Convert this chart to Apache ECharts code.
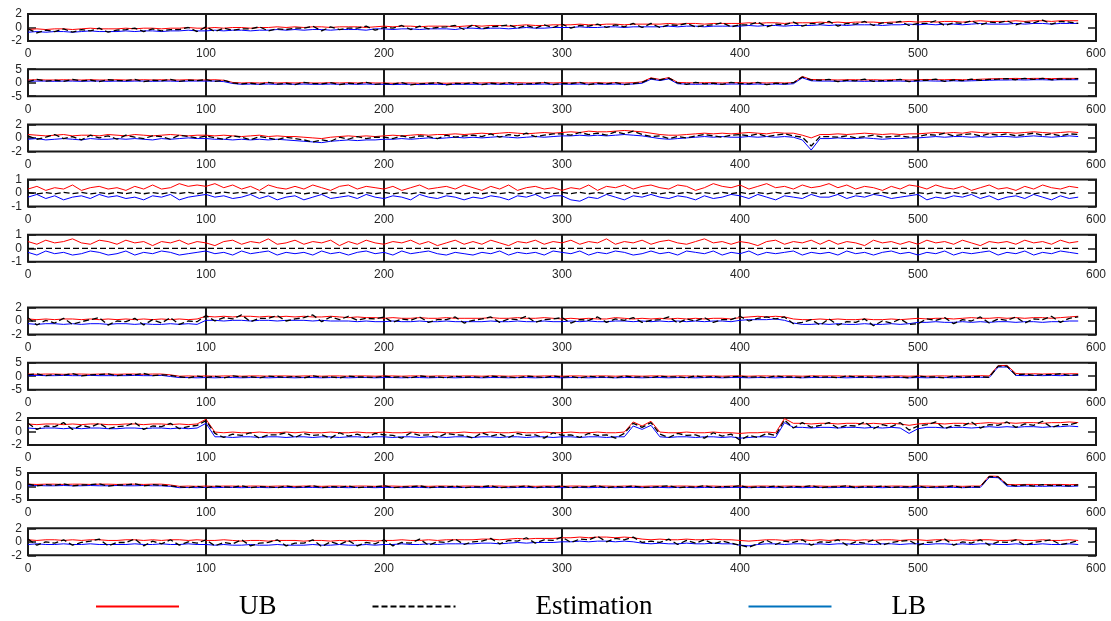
<!DOCTYPE html>
<html lang="en">
<head>
  <meta charset="utf-8">
  <title>UB / Estimation / LB</title>
  <script type="text/javascript" src="https://fastly.jsdelivr.net/npm/echarts@6/dist/echarts.min.js"></script>
  <style type="text/css">
    * { margin: 0; padding: 0; }
    html, body { background: #fff; }
    #main { width: 1111px; height: 621px; }
  </style>
</head>
<body>
  <div id="main"></div>
  <script type="text/javascript">
    // sample index step between stored points (x = 0, 5, 10 ... 590)
    const STEP = 5;
    // y limits of each panel (symmetric, ticks at -m, 0, m)
    const yLimits = [2, 5, 2, 1, 1, 2, 5, 2, 5, 2];

    // ---- panel 1
    const ub1 = [
      -0.3,-0.2,-0.3,-0.2,-0.2,-0.3,-0.2,-0.1,-0.2,-0.2,
      -0.2,-0.1,-0.2,-0.1,-0.1,-0.2,-0.1,-0.1,0.0,-0.1,
      -0.1,0.0,-0.1,0.0,0.0,-0.1,0.0,0.0,0.1,0.0,
      0.1,0.0,0.1,0.1,0.0,0.1,0.1,0.1,0.0,0.1,
      0.2,0.1,0.2,0.2,0.1,0.2,0.2,0.2,0.1,0.2,
      0.3,0.2,0.3,0.3,0.2,0.3,0.4,0.3,0.3,0.4,
      0.4,0.4,0.5,0.4,0.4,0.5,0.5,0.4,0.5,0.5,
      0.5,0.5,0.6,0.5,0.6,0.6,0.5,0.6,0.6,0.6,
      0.6,0.7,0.6,0.7,0.7,0.6,0.7,0.7,0.7,0.8,
      0.7,0.8,0.7,0.8,0.8,0.8,0.7,0.8,0.8,0.9,
      0.8,0.9,0.8,0.9,0.9,0.8,0.9,1.0,0.9,0.9,
      0.9,1.0,0.9,1.0,1.0,0.9,1.0,1.0,1.0
    ];
    const est1 = [
      -0.2,-0.8,-0.4,-0.6,-0.2,-0.7,-0.3,-0.5,-0.1,-0.7,
      -0.4,-0.3,-0.1,-0.6,-0.2,-0.5,-0.3,-0.3,0.0,-0.6,
      0.1,-0.6,-0.1,-0.4,-0.2,-0.2,0.1,-0.5,-0.2,-0.3,
      -0.1,-0.1,0.2,-0.5,0.1,-0.3,-0.1,-0.1,0.2,-0.4,
      0.0,-0.1,0.3,-0.3,0.2,-0.2,0.0,0.1,0.3,-0.3,
      0.4,-0.2,0.1,0.2,0.4,-0.1,0.3,-0.1,0.4,0.0,
      0.5,-0.1,0.3,0.2,0.5,0.0,0.4,0.1,0.6,0.0,
      0.6,0.0,0.4,0.3,0.6,0.1,0.3,0.4,0.7,0.1,
      0.4,0.4,0.8,0.1,0.5,0.4,0.8,0.2,0.6,0.5,
      0.9,0.2,0.6,0.5,0.9,0.3,0.7,0.6,0.9,0.3,
      0.6,0.6,1.0,0.3,0.7,0.6,1.0,0.4,0.8,0.7,
      1.0,0.4,0.8,0.7,1.1,0.5,0.9,0.8,0.6
    ];
    const lb1 = [
      -0.7,-0.6,-0.7,-0.6,-0.6,-0.7,-0.6,-0.5,-0.6,-0.6,
      -0.6,-0.5,-0.6,-0.5,-0.5,-0.6,-0.5,-0.5,-0.4,-0.5,
      -0.5,-0.4,-0.5,-0.4,-0.4,-0.5,-0.4,-0.4,-0.3,-0.4,
      -0.3,-0.4,-0.3,-0.3,-0.4,-0.3,-0.3,-0.3,-0.4,-0.2,
      -0.2,-0.3,-0.2,-0.2,-0.3,-0.2,-0.2,-0.2,-0.3,-0.1,
      -0.1,-0.2,-0.1,-0.1,-0.2,-0.1,0.0,-0.1,-0.1,0.0,
      0.0,0.0,0.1,0.0,0.0,0.1,0.1,0.0,0.1,0.1,
      0.1,0.1,0.2,0.1,0.2,0.2,0.1,0.2,0.2,0.2,
      0.2,0.3,0.2,0.3,0.3,0.2,0.3,0.3,0.3,0.4,
      0.3,0.4,0.3,0.4,0.4,0.4,0.3,0.4,0.4,0.5,
      0.4,0.5,0.4,0.5,0.5,0.4,0.5,0.6,0.5,0.5,
      0.5,0.6,0.5,0.6,0.6,0.5,0.6,0.6,0.6
    ];

    // ---- panel 2
    const ub2 = [
      1.0,1.1,1.0,1.0,1.1,1.0,1.0,1.1,1.0,1.0,
      1.1,1.0,1.0,1.1,1.0,1.1,1.0,1.0,1.1,1.0,
      1.0,1.1,0.9,0.1,-0.1,0.0,-0.1,0.0,-0.1,0.0,
      -0.1,0.0,-0.1,-0.1,0.0,-0.1,0.0,-0.1,0.0,-0.1,
      -0.1,-0.2,-0.1,-0.1,-0.2,-0.1,-0.1,-0.2,-0.1,-0.1,
      -0.1,-0.1,0.0,-0.1,-0.1,0.0,-0.1,-0.1,0.0,-0.1,
      0.0,-0.1,0.0,-0.1,0.0,-0.1,0.0,-0.1,0.0,0.3,
      1.8,1.2,1.9,0.1,0.0,-0.1,0.0,0.0,-0.1,0.0,
      0.0,-0.1,0.0,-0.1,0.0,-0.1,0.0,2.3,1.2,1.1,
      1.1,1.0,1.1,1.1,1.0,1.1,1.0,1.1,1.1,1.0,
      1.1,1.2,1.1,1.1,1.2,1.1,1.1,1.3,1.4,1.5,
      1.5,1.6,1.5,1.6,1.6,1.5,1.6,1.6,1.6
    ];
    const est2 = [
      0.4,1.2,0.6,0.9,0.5,1.2,0.7,1.0,0.4,1.1,
      0.8,0.8,1.2,0.4,0.9,0.7,1.2,0.5,0.9,0.8,
      1.1,0.5,0.9,-0.1,-0.4,-0.2,-0.6,0.1,-0.5,-0.2,
      -0.7,0.1,-0.3,-0.4,0.0,-0.7,-0.2,-0.4,0.1,-0.6,
      -0.3,-0.5,0.0,-0.8,-0.4,-0.3,0.0,-0.8,-0.3,-0.4,
      0.0,-0.7,-0.2,-0.5,0.0,-0.7,-0.4,-0.3,0.1,-0.7,
      -0.3,-0.3,0.1,-0.7,-0.2,-0.4,0.0,-0.7,-0.3,0.1,
      1.6,1.0,1.7,-0.1,-0.6,0.1,-0.4,-0.2,-0.6,0.1,
      -0.3,-0.4,0.1,-0.7,-0.2,-0.4,0.0,2.1,1.0,0.9,
      1.2,0.4,0.9,0.7,1.3,0.5,0.8,0.8,1.2,0.4,
      0.9,0.9,1.3,0.5,1.0,0.8,1.3,0.9,1.2,1.3,
      1.5,1.1,1.6,1.2,1.6,1.1,1.4,1.3,1.5
    ];
    const lb2 = [
      0.5,0.6,0.6,0.5,0.6,0.6,0.5,0.6,0.6,0.5,
      0.6,0.5,0.6,0.6,0.5,0.6,0.6,0.5,0.6,0.6,
      0.6,0.6,0.4,-0.3,-0.6,-0.5,-0.6,-0.5,-0.6,-0.5,
      -0.6,-0.5,-0.6,-0.6,-0.5,-0.6,-0.5,-0.6,-0.5,-0.6,
      -0.6,-0.7,-0.6,-0.6,-0.7,-0.6,-0.6,-0.7,-0.6,-0.6,
      -0.6,-0.6,-0.5,-0.6,-0.6,-0.5,-0.6,-0.6,-0.5,-0.6,
      -0.5,-0.6,-0.5,-0.6,-0.5,-0.6,-0.5,-0.6,-0.5,-0.2,
      1.3,0.8,1.4,-0.4,-0.5,-0.6,-0.5,-0.5,-0.6,-0.5,
      -0.5,-0.6,-0.5,-0.6,-0.5,-0.6,-0.4,1.8,0.7,0.6,
      0.6,0.5,0.6,0.6,0.5,0.6,0.5,0.6,0.6,0.5,
      0.6,0.7,0.6,0.6,0.7,0.6,0.7,0.8,0.9,1.0,
      1.0,1.1,1.0,1.1,1.1,1.0,1.1,1.1,1.1
    ];

    // ---- panel 3
    const ub3 = [
      0.5,0.4,0.3,0.4,0.5,0.3,0.4,0.4,0.3,0.5,
      0.4,0.3,0.5,0.4,0.3,0.4,0.5,0.4,0.3,0.4,
      0.4,0.3,0.4,0.3,0.2,0.3,0.4,0.2,0.3,0.2,
      0.2,0.1,0.0,-0.1,0.1,0.2,0.3,0.2,0.3,0.2,
      0.3,0.4,0.3,0.4,0.5,0.4,0.5,0.5,0.6,0.5,
      0.6,0.7,0.6,0.7,0.8,0.7,0.6,0.7,0.8,0.7,
      0.8,0.9,0.8,1.0,0.9,0.9,1.0,1.1,1.0,0.9,
      0.7,0.5,0.4,0.4,0.5,0.6,0.7,0.6,0.7,0.6,
      0.7,0.8,0.7,0.6,0.8,0.7,0.7,0.4,0.0,0.5,
      0.5,0.6,0.5,0.6,0.7,0.6,0.5,0.6,0.5,0.6,
      0.6,0.7,0.8,0.7,0.8,0.7,0.9,0.8,0.7,0.8,
      0.8,0.7,0.8,0.9,0.8,0.7,0.8,0.9,0.8
    ];
    const est3 = [
      0.3,-0.2,0.1,0.5,-0.1,0.2,-0.3,0.4,0.0,0.3,
      -0.2,0.4,0.1,-0.1,0.3,0.2,-0.2,0.4,0.2,0.0,
      0.3,0.0,-0.2,0.3,0.1,-0.3,0.2,0.0,-0.3,0.1,
      -0.1,-0.3,-0.6,-0.3,-0.5,0.1,-0.2,0.2,-0.1,0.1,
      0.1,-0.1,0.3,0.0,0.3,0.2,-0.1,0.4,0.1,0.3,
      0.4,0.2,0.6,0.1,0.5,0.3,0.7,0.2,0.4,0.6,
      0.6,0.4,0.8,0.5,0.7,0.4,0.9,0.6,1.0,0.5,
      0.2,0.3,-0.1,0.2,0.0,0.3,0.5,0.3,0.1,0.4,
      0.5,0.3,0.6,0.2,0.4,0.6,0.3,0.1,-1.2,0.2,
      0.2,0.1,0.3,0.0,0.2,0.4,0.1,0.2,0.3,0.1,
      0.2,0.5,0.4,0.7,0.3,0.5,0.6,0.3,0.6,0.4,
      0.6,0.3,0.5,0.7,0.4,0.6,0.3,0.6,0.5
    ];
    const lb3 = [
      -0.2,-0.1,-0.3,-0.2,-0.1,-0.2,-0.3,-0.1,-0.2,-0.2,
      -0.1,-0.2,-0.1,-0.2,-0.3,-0.1,-0.2,-0.1,0.0,-0.1,
      -0.1,-0.2,-0.2,-0.3,-0.2,-0.3,-0.2,-0.3,-0.2,-0.3,
      -0.4,-0.5,-0.6,-0.7,-0.5,-0.4,-0.3,-0.4,-0.3,-0.3,
      -0.2,-0.2,-0.1,-0.2,-0.1,0.0,-0.1,0.0,0.1,0.0,
      0.1,0.0,0.1,0.2,0.1,0.0,0.1,0.2,0.1,0.2,
      0.3,0.3,0.4,0.3,0.4,0.3,0.4,0.5,0.4,0.3,
      0.1,-0.1,-0.2,-0.1,0.0,0.1,0.2,0.1,0.2,0.1,
      0.1,0.2,0.1,0.2,0.1,0.2,0.1,-0.3,-1.8,-0.1,
      -0.1,0.0,-0.1,-0.1,0.0,-0.1,-0.2,-0.1,-0.1,0.0,
      0.0,0.1,0.2,0.1,0.2,0.2,0.1,0.2,0.1,0.2,
      0.2,0.1,0.2,0.3,0.2,0.1,0.2,0.3,0.2
    ];

    // ---- panel 4
    const ub4 = [
      0.3,0.5,0.2,0.4,0.3,0.6,0.2,0.4,0.5,0.3,
      0.4,0.2,0.5,0.3,0.6,0.3,0.4,0.7,0.5,0.6,
      0.5,0.7,0.4,0.6,0.3,0.5,0.2,0.6,0.4,0.3,
      0.5,0.3,0.6,0.4,0.2,0.5,0.6,0.3,0.5,0.4,
      0.3,0.5,0.2,0.4,0.6,0.3,0.4,0.5,0.3,0.6,
      0.4,0.2,0.5,0.3,0.6,0.2,0.4,0.5,0.3,0.4,
      0.2,0.4,0.3,0.6,0.2,0.5,0.4,0.6,0.3,0.5,
      0.6,0.4,0.3,0.6,0.5,0.2,0.4,0.7,0.5,0.4,
      0.6,0.3,0.5,0.7,0.4,0.5,0.3,0.6,0.4,0.5,
      0.7,0.4,0.6,0.3,0.5,0.4,0.2,0.5,0.3,0.6,
      0.5,0.3,0.6,0.4,0.3,0.5,0.2,0.4,0.6,0.3,
      0.4,0.2,0.5,0.3,0.6,0.4,0.3,0.5,0.4
    ];
    const est4 = [
      0.04,-0.06,0.03,-0.05,0.06,-0.04,0.05,-0.06,0.03,-0.05,
      0.05,-0.04,0.06,-0.05,0.04,-0.06,0.05,-0.03,0.06,-0.05,
      0.07,-0.03,0.08,-0.02,0.06,-0.04,0.07,-0.03,0.05,-0.04,
      0.05,-0.06,0.04,-0.05,0.06,-0.04,0.05,-0.06,0.04,-0.05,
      0.06,-0.05,0.04,-0.06,0.05,-0.04,0.06,-0.05,0.03,-0.06,
      0.04,-0.05,0.06,-0.04,0.05,-0.06,0.04,-0.05,0.06,-0.04,
      0.05,-0.04,0.06,-0.05,0.04,-0.06,0.05,-0.04,0.06,-0.05,
      0.04,-0.06,0.05,-0.04,0.06,-0.05,0.04,-0.06,0.05,-0.04,
      0.06,-0.05,0.04,-0.06,0.05,-0.04,0.06,-0.05,0.04,-0.06,
      0.05,-0.04,0.06,-0.05,0.04,-0.06,0.05,-0.04,0.06,-0.05,
      0.04,-0.06,0.05,-0.04,0.06,-0.05,0.04,-0.06,0.05,-0.04,
      0.06,-0.05,0.04,-0.06,0.05,-0.04,0.06,-0.05,0.04
    ];
    const lb4 = [
      -0.3,-0.1,-0.4,-0.2,-0.5,-0.3,-0.2,-0.4,-0.1,-0.3,
      -0.2,-0.4,-0.3,-0.5,-0.2,-0.3,-0.1,-0.5,-0.3,-0.2,
      -0.1,-0.3,-0.2,-0.4,-0.3,-0.1,-0.4,-0.2,-0.5,-0.3,
      -0.2,-0.5,-0.3,-0.1,-0.4,-0.3,-0.2,-0.4,-0.1,-0.3,
      -0.4,-0.2,-0.3,-0.5,-0.1,-0.3,-0.4,-0.2,-0.3,-0.5,
      -0.3,-0.4,-0.2,-0.3,-0.5,-0.2,-0.3,-0.1,-0.4,-0.2,
      -0.2,-0.5,-0.6,-0.3,-0.4,-0.1,-0.3,-0.5,-0.2,-0.3,
      -0.1,-0.3,-0.4,-0.2,-0.3,-0.5,-0.2,-0.4,-0.3,-0.1,
      -0.2,-0.4,-0.1,-0.3,-0.5,-0.2,-0.3,-0.4,-0.1,-0.3,
      -0.3,-0.1,-0.4,-0.2,-0.3,-0.1,-0.2,-0.4,-0.3,-0.2,
      -0.1,-0.5,-0.3,-0.4,-0.2,-0.3,-0.1,-0.4,-0.2,-0.5,
      -0.3,-0.2,-0.4,-0.1,-0.3,-0.5,-0.2,-0.4,-0.3
    ];

    // ---- panel 5
    const ub5 = [
      0.5,0.3,0.6,0.4,0.5,0.7,0.4,0.3,0.6,0.5,
      0.3,0.6,0.4,0.5,0.2,0.5,0.4,0.6,0.3,0.5,
      0.4,0.2,0.5,0.6,0.3,0.5,0.4,0.7,0.3,0.4,
      0.6,0.3,0.5,0.4,0.6,0.2,0.5,0.3,0.6,0.4,
      0.3,0.5,0.4,0.6,0.3,0.5,0.2,0.4,0.6,0.3,
      0.5,0.3,0.6,0.4,0.2,0.5,0.4,0.6,0.3,0.5,
      0.4,0.6,0.3,0.5,0.4,0.7,0.3,0.5,0.4,0.6,
      0.3,0.5,0.6,0.4,0.3,0.5,0.7,0.4,0.5,0.3,
      0.5,0.4,0.2,0.5,0.6,0.3,0.5,0.4,0.6,0.3,
      0.6,0.3,0.5,0.4,0.2,0.6,0.4,0.5,0.3,0.5,
      0.3,0.6,0.4,0.5,0.3,0.6,0.4,0.2,0.5,0.4,
      0.5,0.3,0.6,0.4,0.5,0.3,0.6,0.4,0.5
    ];
    const est5 = [
      0,0,0,0,0,0,0,0,0,0,
      0,0,0,0,0,0,0,0,0,0,
      0,0,0,0,0,0,0,0,0,0,
      0,0,0,0,0,0,0,0,0,0,
      0,0,0,0,0,0,0,0,0,0,
      0,0,0,0,0,0,0,0,0,0,
      0,0,0,0,0,0,0,0,0,0,
      0,0,0,0,0,0,0,0,0,0,
      0,0,0,0,0,0,0,0,0,0,
      0,0,0,0,0,0,0,0,0,0,
      0,0,0,0,0,0,0,0,0,0,
      0,0,0,0,0,0,0,0,0
    ];
    const lb5 = [
      -0.3,-0.5,-0.2,-0.4,-0.3,-0.5,-0.4,-0.2,-0.3,-0.5,
      -0.4,-0.2,-0.5,-0.3,-0.4,-0.2,-0.3,-0.5,-0.4,-0.3,
      -0.2,-0.4,-0.3,-0.5,-0.2,-0.4,-0.3,-0.2,-0.5,-0.3,
      -0.4,-0.3,-0.5,-0.2,-0.4,-0.3,-0.5,-0.3,-0.2,-0.4,
      -0.3,-0.5,-0.2,-0.4,-0.3,-0.2,-0.4,-0.5,-0.3,-0.4,
      -0.5,-0.3,-0.4,-0.2,-0.5,-0.3,-0.4,-0.3,-0.5,-0.2,
      -0.3,-0.4,-0.2,-0.5,-0.3,-0.4,-0.2,-0.3,-0.5,-0.4,
      -0.2,-0.4,-0.3,-0.5,-0.2,-0.3,-0.4,-0.2,-0.5,-0.3,
      -0.4,-0.2,-0.5,-0.3,-0.4,-0.3,-0.2,-0.5,-0.3,-0.4,
      -0.3,-0.5,-0.2,-0.4,-0.3,-0.5,-0.3,-0.2,-0.4,-0.3,
      -0.5,-0.3,-0.4,-0.2,-0.5,-0.3,-0.4,-0.3,-0.2,-0.5,
      -0.3,-0.4,-0.2,-0.5,-0.3,-0.4,-0.2,-0.3,-0.4
    ];

    // ---- panel 6
    const ub6 = [
      0.3,0.2,0.3,0.2,0.3,0.3,0.2,0.3,0.2,0.3,
      0.2,0.3,0.2,0.3,0.2,0.3,0.2,0.3,0.2,0.3,
      0.7,0.6,0.7,0.6,0.7,0.7,0.6,0.7,0.6,0.7,
      0.6,0.7,0.6,0.6,0.7,0.6,0.5,0.6,0.5,0.5,
      0.4,0.5,0.4,0.4,0.5,0.4,0.4,0.5,0.4,0.4,
      0.4,0.4,0.5,0.4,0.4,0.5,0.4,0.4,0.5,0.4,
      0.3,0.4,0.3,0.4,0.3,0.3,0.5,0.4,0.3,0.4,
      0.3,0.4,0.3,0.4,0.3,0.4,0.3,0.4,0.4,0.3,
      0.5,0.6,0.7,0.6,0.7,0.6,0.3,0.2,0.2,0.3,
      0.2,0.3,0.2,0.2,0.3,0.2,0.2,0.3,0.2,0.3,
      0.4,0.3,0.4,0.4,0.3,0.4,0.5,0.4,0.4,0.5,
      0.4,0.5,0.4,0.5,0.5,0.4,0.5,0.6,0.7
    ];
    const est6 = [
      0.5,-0.6,0.1,-0.3,0.4,-0.5,-0.1,0.2,0.5,-0.6,
      0.0,-0.1,0.4,-0.6,0.2,-0.3,0.5,-0.5,0.0,-0.1,
      0.8,0.0,0.5,0.3,0.9,-0.1,0.4,0.4,0.8,0.0,
      0.3,0.5,0.9,-0.1,0.6,0.2,0.7,0.1,0.4,0.3,
      0.6,-0.2,0.3,0.1,0.6,-0.2,0.2,0.2,0.6,-0.3,
      0.1,0.3,0.6,-0.2,0.3,0.2,0.7,-0.2,0.2,0.3,
      0.5,-0.3,0.2,0.1,0.6,-0.2,0.3,0.1,0.5,-0.2,
      0.1,0.2,0.6,-0.3,0.3,0.0,0.5,-0.2,0.2,0.2,
      0.7,0.0,0.4,0.6,0.3,0.6,-0.4,-0.2,0.2,-0.6,
      0.3,-0.6,-0.1,-0.2,0.3,-0.7,0.0,-0.3,0.3,-0.5,
      -0.4,0.3,0.1,0.5,-0.4,0.2,0.0,0.6,-0.3,0.3,
      0.1,0.6,-0.3,0.3,0.2,0.7,-0.2,0.4,0.6
    ];
    const lb6 = [
      -0.4,-0.5,-0.4,-0.4,-0.5,-0.4,-0.5,-0.4,-0.4,-0.5,
      -0.4,-0.4,-0.5,-0.4,-0.5,-0.5,-0.4,-0.5,-0.4,-0.5,
      0.1,0.1,0.0,0.1,0.1,0.0,0.1,0.1,0.0,0.1,
      0.1,0.1,0.0,0.1,0.0,0.0,0.0,-0.1,0.0,-0.1,
      -0.1,0.0,-0.1,-0.1,0.0,-0.1,-0.1,0.0,-0.1,-0.1,
      -0.1,-0.1,0.0,-0.1,-0.1,0.0,-0.1,-0.1,0.0,-0.1,
      -0.1,0.0,-0.1,0.0,-0.1,-0.1,0.0,0.0,-0.1,0.0,
      -0.1,0.0,-0.1,0.0,-0.1,0.0,-0.1,0.0,0.0,-0.1,
      0.1,0.2,0.2,0.2,0.3,0.1,-0.3,-0.5,-0.5,-0.4,
      -0.5,-0.4,-0.5,-0.5,-0.4,-0.5,-0.5,-0.4,-0.5,-0.4,
      -0.2,-0.2,-0.1,-0.2,-0.2,-0.1,-0.2,-0.1,-0.2,-0.1,
      -0.1,-0.2,-0.1,-0.1,-0.2,-0.1,-0.1,0.0,0.0
    ];

    // ---- panel 7
    const ub7 = [
      0.8,0.7,0.8,0.8,0.7,0.8,0.8,0.7,0.8,0.8,
      0.7,0.8,0.8,0.7,0.8,0.8,0.5,0.0,0.1,0.0,
      0.1,0.0,0.1,0.1,0.0,0.1,0.1,0.0,0.1,0.1,
      0.0,0.1,0.1,0.0,0.1,0.1,0.0,0.1,0.1,0.0,
      0.1,0.1,0.0,0.1,0.1,0.0,0.1,0.1,0.0,0.1,
      0.1,0.0,0.1,0.1,0.0,0.1,0.1,0.0,0.1,0.1,
      0.0,0.1,0.1,0.0,0.1,0.1,0.0,0.1,0.1,0.0,
      0.1,0.1,0.0,0.1,0.1,0.0,0.1,0.1,0.0,0.1,
      0.1,0.0,0.1,0.1,0.0,0.1,0.1,0.0,0.1,0.1,
      0.1,0.1,0.0,0.1,0.1,0.1,0.0,0.1,0.1,0.0,
      0.1,0.0,0.1,0.1,0.0,0.1,0.1,0.2,0.1,3.9,
      4.0,1.0,0.8,0.9,0.8,0.9,0.8,0.9,0.9
    ];
    const est7 = [
      0.5,0.9,0.2,0.6,0.4,1.0,0.1,0.5,0.6,0.9,
      0.2,0.6,0.5,1.0,0.2,0.5,0.3,-0.2,-0.6,0.0,
      -0.4,-0.1,-0.6,0.1,-0.3,-0.2,-0.6,0.0,-0.2,-0.4,
      -0.1,-0.6,0.1,-0.4,-0.2,-0.6,0.0,-0.3,-0.3,-0.5,
      0.0,-0.4,-0.2,-0.6,0.1,-0.3,-0.2,-0.6,0.0,-0.4,
      -0.2,-0.5,0.1,-0.3,-0.3,-0.6,0.0,-0.2,-0.5,0.1,
      -0.4,-0.1,-0.6,0.0,-0.3,-0.2,-0.6,0.1,-0.4,-0.2,
      -0.5,0.0,-0.3,-0.2,-0.6,0.1,-0.4,-0.1,-0.5,-0.2,
      0.0,-0.4,-0.2,-0.6,0.1,-0.3,-0.3,-0.5,0.0,-0.4,
      -0.2,-0.6,0.1,-0.3,-0.2,-0.5,0.0,-0.4,-0.2,-0.6,
      0.0,-0.3,-0.3,-0.6,0.1,-0.4,-0.2,-0.2,-0.4,3.7,
      3.7,0.4,0.8,0.3,0.6,0.6,0.9,0.3,0.6
    ];
    const lb7 = [
      0.2,0.3,0.2,0.2,0.3,0.2,0.2,0.3,0.2,0.2,
      0.2,0.2,0.3,0.2,0.2,0.3,-0.1,-0.5,-0.5,-0.6,
      -0.5,-0.6,-0.5,-0.5,-0.6,-0.5,-0.5,-0.6,-0.5,-0.5,
      -0.6,-0.5,-0.5,-0.6,-0.5,-0.5,-0.6,-0.5,-0.5,-0.6,
      -0.5,-0.5,-0.6,-0.5,-0.5,-0.6,-0.5,-0.5,-0.6,-0.5,
      -0.5,-0.6,-0.5,-0.5,-0.6,-0.5,-0.5,-0.6,-0.5,-0.5,
      -0.6,-0.5,-0.5,-0.6,-0.5,-0.5,-0.6,-0.5,-0.5,-0.6,
      -0.5,-0.5,-0.6,-0.5,-0.5,-0.6,-0.5,-0.5,-0.6,-0.5,
      -0.5,-0.6,-0.5,-0.5,-0.6,-0.5,-0.5,-0.6,-0.5,-0.5,
      -0.5,-0.5,-0.6,-0.5,-0.5,-0.5,-0.6,-0.5,-0.5,-0.6,
      -0.5,-0.6,-0.5,-0.5,-0.6,-0.5,-0.5,-0.4,-0.5,3.4,
      3.4,0.3,0.2,0.3,0.2,0.3,0.2,0.3,0.3
    ];

    // ---- panel 8
    const ub8 = [
      1.1,1.0,1.1,1.1,1.0,1.1,1.0,1.1,1.1,1.0,
      1.0,1.1,1.1,1.0,1.1,1.1,1.0,1.1,1.0,1.1,
      1.8,-0.1,-0.2,-0.1,-0.2,-0.2,-0.1,-0.2,-0.2,-0.1,
      -0.2,-0.1,-0.2,-0.2,-0.1,-0.2,-0.2,-0.1,-0.2,-0.2,
      -0.1,-0.2,-0.2,-0.1,-0.2,-0.2,-0.1,-0.2,-0.2,-0.1,
      -0.2,-0.2,-0.1,-0.2,-0.2,-0.1,-0.2,-0.2,-0.1,-0.2,
      -0.2,-0.1,-0.2,-0.2,-0.1,-0.2,-0.2,-0.1,1.4,0.8,
      1.5,-0.1,-0.2,-0.2,-0.1,-0.2,-0.2,-0.1,-0.2,-0.2,
      -0.3,-0.2,-0.2,-0.1,-0.2,1.9,1.2,1.2,1.1,1.2,
      1.2,1.1,1.2,1.2,1.1,1.2,1.1,1.2,1.1,0.9,
      1.1,1.2,1.2,1.1,1.2,1.2,1.1,1.2,1.3,1.2,
      1.3,1.2,1.3,1.3,1.2,1.3,1.3,1.4,1.3
    ];
    const est8 = [
      1.2,0.3,0.8,0.7,1.3,0.3,0.9,0.6,1.2,0.4,
      0.7,0.8,1.3,0.3,0.8,0.7,1.2,0.4,0.7,0.9,
      1.6,-0.3,-0.9,-0.4,-0.6,-0.2,-1.0,-0.5,-0.5,-0.2,
      -0.9,-0.3,-0.6,-0.5,-1.0,-0.2,-0.7,-0.4,-0.9,-0.3,
      -0.5,-0.6,-1.0,-0.2,-0.6,-0.5,-0.9,-0.3,-0.5,-0.6,
      -1.0,-0.2,-0.7,-0.4,-0.9,-0.3,-0.6,-0.5,-1.0,-0.2,
      -0.6,-0.5,-0.9,-0.3,-0.6,-0.5,-1.0,-0.3,1.2,0.6,
      1.3,-0.4,-0.9,-0.3,-0.6,-0.5,-1.0,-0.2,-0.7,-0.4,
      -1.3,-0.6,-0.9,-0.3,-0.6,1.7,0.5,1.3,0.6,0.9,
      1.3,0.5,0.9,0.8,1.4,0.4,1.0,0.7,1.3,0.2,
      0.8,1.0,1.4,0.4,0.9,0.8,1.4,0.5,1.0,0.9,
      1.4,0.6,1.1,0.9,1.5,0.6,1.0,1.0,1.3
    ];
    const lb8 = [
      0.5,0.4,0.5,0.5,0.4,0.5,0.4,0.5,0.5,0.4,
      0.4,0.5,0.5,0.4,0.5,0.5,0.4,0.5,0.4,0.5,
      1.2,-0.8,-0.8,-0.9,-0.8,-0.8,-0.9,-0.8,-0.8,-0.9,
      -0.8,-0.8,-0.9,-0.8,-0.8,-0.9,-0.8,-0.8,-0.9,-0.8,
      -0.8,-0.9,-0.8,-0.8,-0.9,-0.8,-0.8,-0.9,-0.8,-0.8,
      -0.9,-0.8,-0.8,-0.9,-0.8,-0.8,-0.9,-0.8,-0.8,-0.9,
      -0.8,-0.8,-0.9,-0.8,-0.8,-0.9,-0.8,-0.8,0.8,0.3,
      0.9,-0.8,-0.9,-0.8,-0.8,-0.9,-0.8,-0.8,-0.9,-0.8,
      -1.0,-0.9,-0.8,-0.8,-0.9,1.3,0.6,0.6,0.5,0.6,
      0.6,0.5,0.6,0.6,0.5,0.6,0.5,0.6,0.5,-0.3,
      0.4,0.6,0.6,0.5,0.6,0.6,0.5,0.6,0.7,0.6,
      0.7,0.6,0.7,0.7,0.6,0.7,0.7,0.8,0.7
    ];

    // ---- panel 9
    const ub9 = [
      0.9,0.8,0.9,0.9,0.8,0.9,0.9,0.8,0.9,0.9,
      0.8,0.9,0.9,0.8,0.9,0.9,0.6,0.1,0.2,0.1,
      0.2,0.1,0.2,0.2,0.1,0.2,0.2,0.1,0.2,0.2,
      0.1,0.2,0.2,0.1,0.2,0.2,0.1,0.2,0.2,0.1,
      0.2,0.2,0.1,0.2,0.2,0.1,0.2,0.2,0.1,0.2,
      0.2,0.1,0.2,0.2,0.1,0.2,0.2,0.1,0.2,0.2,
      0.1,0.2,0.2,0.1,0.2,0.2,0.1,0.2,0.2,0.1,
      0.2,0.2,0.1,0.2,0.2,0.1,0.2,0.2,0.1,0.2,
      0.2,0.1,0.2,0.2,0.1,0.2,0.2,0.1,0.2,0.2,
      0.1,0.2,0.2,0.1,0.2,0.2,0.1,0.2,0.2,0.1,
      0.2,0.2,0.1,0.2,0.2,0.1,0.2,0.2,3.9,3.8,
      0.8,0.7,0.8,0.8,0.7,0.8,0.8,0.7,0.8
    ];
    const est9 = [
      0.9,0.3,0.7,0.5,1.0,0.3,0.6,0.7,1.0,0.2,
      0.6,0.6,1.0,0.3,0.7,0.5,0.3,-0.1,-0.4,0.1,
      -0.4,0.2,-0.1,-0.2,0.3,-0.4,0.0,-0.1,-0.4,0.2,
      -0.2,-0.1,0.3,-0.4,0.0,-0.2,0.2,-0.4,-0.1,-0.1,
      0.3,-0.4,-0.1,-0.1,0.3,-0.4,0.0,-0.2,0.2,-0.4,
      -0.1,-0.1,0.3,-0.4,-0.1,-0.2,0.3,-0.4,0.0,-0.2,
      0.2,-0.4,-0.1,-0.1,0.3,-0.4,0.0,-0.2,0.2,-0.3,
      -0.2,0.0,0.3,-0.4,-0.1,-0.2,0.3,-0.4,0.0,-0.1,
      0.3,-0.4,-0.1,-0.2,0.2,-0.4,0.0,-0.1,0.3,-0.4,
      -0.1,-0.1,0.3,-0.4,0.0,-0.2,0.2,-0.3,-0.1,-0.1,
      0.3,-0.4,-0.1,-0.2,0.3,-0.4,0.0,-0.1,3.7,3.6,
      0.7,0.3,0.6,0.2,0.7,0.4,0.5,0.3,0.6
    ];
    const lb9 = [
      0.3,0.4,0.3,0.3,0.4,0.3,0.3,0.4,0.3,0.3,
      0.4,0.3,0.3,0.4,0.3,0.3,0.1,-0.4,-0.3,-0.4,
      -0.3,-0.4,-0.3,-0.3,-0.4,-0.3,-0.3,-0.4,-0.3,-0.3,
      -0.4,-0.3,-0.3,-0.4,-0.3,-0.3,-0.4,-0.3,-0.3,-0.4,
      -0.3,-0.3,-0.4,-0.3,-0.3,-0.4,-0.3,-0.3,-0.4,-0.3,
      -0.3,-0.4,-0.3,-0.3,-0.4,-0.3,-0.3,-0.4,-0.3,-0.3,
      -0.4,-0.3,-0.3,-0.4,-0.3,-0.3,-0.4,-0.3,-0.3,-0.4,
      -0.3,-0.3,-0.4,-0.3,-0.3,-0.4,-0.3,-0.3,-0.4,-0.3,
      -0.3,-0.4,-0.3,-0.3,-0.4,-0.3,-0.3,-0.4,-0.3,-0.3,
      -0.4,-0.3,-0.3,-0.4,-0.3,-0.3,-0.4,-0.3,-0.3,-0.4,
      -0.3,-0.3,-0.4,-0.3,-0.3,-0.4,-0.3,-0.3,3.4,3.3,
      0.2,0.1,0.2,0.2,0.1,0.2,0.2,0.1,0.2
    ];

    // ---- panel 10
    const ub10 = [
      0.3,0.2,0.3,0.3,0.2,0.3,0.2,0.3,0.3,0.2,
      0.2,0.3,0.3,0.2,0.3,0.2,0.3,0.3,0.2,0.3,
      0.2,0.2,0.3,0.2,0.1,0.2,0.2,0.1,0.2,0.2,
      0.2,0.1,0.2,0.2,0.1,0.2,0.1,0.2,0.2,0.1,
      0.2,0.2,0.3,0.2,0.2,0.3,0.2,0.3,0.3,0.3,
      0.3,0.4,0.4,0.3,0.4,0.5,0.4,0.5,0.5,0.5,
      0.6,0.6,0.7,0.6,0.7,0.7,0.6,0.7,0.6,0.4,
      0.3,0.4,0.3,0.3,0.4,0.3,0.3,0.4,0.3,0.3,
      0.2,0.1,0.2,0.3,0.3,0.2,0.3,0.3,0.2,0.3,
      0.2,0.3,0.3,0.2,0.3,0.2,0.3,0.3,0.2,0.3,
      0.3,0.2,0.3,0.3,0.2,0.3,0.2,0.3,0.3,0.2,
      0.2,0.3,0.2,0.2,0.3,0.2,0.2,0.3,0.2
    ];
    const est10 = [
      0.4,-0.5,0.0,-0.2,0.3,-0.5,-0.1,0.1,0.4,-0.6,
      -0.1,-0.1,0.4,-0.6,0.1,-0.3,0.3,-0.5,0.0,-0.2,
      0.3,-0.6,-0.1,-0.3,0.3,-0.6,-0.2,-0.1,0.3,-0.6,
      -0.2,-0.2,0.3,-0.7,0.0,-0.4,0.2,-0.6,-0.1,-0.3,
      0.3,-0.6,-0.1,-0.2,0.4,-0.5,0.0,-0.1,0.4,-0.4,
      0.0,0.1,0.5,-0.3,0.2,0.1,0.6,-0.2,0.3,0.2,
      0.7,-0.1,0.4,0.3,0.8,0.0,0.5,0.3,0.7,-0.1,
      0.1,-0.1,0.4,-0.4,0.2,-0.2,0.3,-0.3,0.1,-0.2,
      -0.5,-0.8,-0.3,0.2,-0.4,0.1,-0.1,0.3,-0.5,0.0,
      -0.1,0.3,-0.5,0.0,-0.2,0.3,-0.5,-0.1,0.1,0.2,
      -0.5,-0.1,0.0,0.4,-0.5,0.0,-0.2,0.3,-0.5,0.0,
      -0.1,0.3,-0.5,-0.1,0.1,0.3,-0.4,-0.2,0.2
    ];
    const lb10 = [
      -0.4,-0.3,-0.4,-0.4,-0.3,-0.4,-0.4,-0.3,-0.4,-0.4,
      -0.4,-0.4,-0.3,-0.4,-0.4,-0.3,-0.4,-0.4,-0.3,-0.4,
      -0.4,-0.5,-0.4,-0.5,-0.5,-0.4,-0.5,-0.5,-0.4,-0.5,
      -0.5,-0.5,-0.4,-0.5,-0.5,-0.4,-0.5,-0.5,-0.4,-0.5,
      -0.4,-0.4,-0.3,-0.4,-0.4,-0.3,-0.4,-0.3,-0.3,-0.3,
      -0.3,-0.2,-0.2,-0.3,-0.2,-0.1,-0.2,-0.1,-0.1,-0.1,
      0.0,0.0,0.1,0.0,0.1,0.1,0.0,0.1,0.0,-0.2,
      -0.3,-0.2,-0.3,-0.3,-0.2,-0.3,-0.3,-0.2,-0.3,-0.3,
      -0.5,-0.6,-0.4,-0.3,-0.3,-0.4,-0.3,-0.3,-0.4,-0.3,
      -0.4,-0.3,-0.3,-0.4,-0.3,-0.4,-0.3,-0.3,-0.4,-0.3,
      -0.3,-0.4,-0.3,-0.3,-0.4,-0.3,-0.4,-0.3,-0.3,-0.4,
      -0.4,-0.3,-0.4,-0.4,-0.3,-0.4,-0.4,-0.3,-0.4
    ];

    const panels = [
      [ub1, est1, lb1], [ub2, est2, lb2], [ub3, est3, lb3], [ub4, est4, lb4], [ub5, est5, lb5],
      [ub6, est6, lb6], [ub7, est7, lb7], [ub8, est8, lb8], [ub9, est9, lb9], [ub10, est10, lb10]
    ];

    // panel layout (pixels)
    const gridTops = [14, 69.2, 124.4, 179.6, 234.8, 307.5, 362.7, 417.9, 473.1, 528.3];
    const axisColor = '#1a1a1a';
    const labelFont = { color: '#262626', fontSize: 12, fontFamily: 'Liberation Sans' };

    function toPairs(arr) {
      return arr.map((v, i) => [i * STEP, v]);
    }

    var grids = [], xAxes = [], yAxes = [], series = [];
    panels.forEach((p, i) => {
      const m = yLimits[i];
      grids.push({
        left: 28, right: 15, top: gridTops[i], height: 27,
        show: true, borderColor: axisColor, borderWidth: 2, backgroundColor: '#fff'
      });
      xAxes.push({
        gridIndex: i, type: 'value', min: 0, max: 600, interval: 100,
        axisLine: { show: false }, axisTick: { show: false },
        axisLabel: Object.assign({ margin: 7 }, labelFont),
        splitLine: { show: true, lineStyle: { color: axisColor, width: 2 } }
      });
      // left axis with labels, right axis only for the inner tick at 0
      ['left', 'right'].forEach(pos => {
        yAxes.push({
          gridIndex: i, type: 'value', position: pos, min: -m, max: m, interval: m,
          axisLine: { show: false },
          axisTick: { show: true, inside: true, length: 8, lineStyle: { color: axisColor, width: 1.5 } },
          axisLabel: Object.assign({ show: pos === 'left', margin: 6 }, labelFont),
          splitLine: { show: false }
        });
      });
      const common = { type: 'line', xAxisIndex: i, yAxisIndex: i * 2, symbol: 'none', animation: false };
      series.push(Object.assign({ name: 'UB', data: toPairs(p[0]), z: 3,
        lineStyle: { color: '#ff0000', width: 1 }, itemStyle: { color: '#ff0000' } }, common));
      series.push(Object.assign({ name: 'LB', data: toPairs(p[2]), z: 3,
        lineStyle: { color: '#0000ff', width: 1 }, itemStyle: { color: '#0000ff' } }, common));
      series.push(Object.assign({ name: 'Estimation', data: toPairs(p[1]), z: 4,
        lineStyle: { color: '#000', width: 1.3, type: [6, 3] }, itemStyle: { color: '#000' } }, common));
    });

    var option = {
      backgroundColor: '#fff',
      animation: false,
      grid: grids,
      xAxis: xAxes,
      yAxis: yAxes,
      legend: {
        data: [
          { name: 'UB' },
          { name: 'Estimation', textStyle: { padding: [0, 0, 0, 75] } },
          { name: 'LB', lineStyle: { color: '#0072bd' } }
        ],
        left: 95, top: 593, padding: 0,
        itemWidth: 83, itemHeight: 14, itemGap: 95,
        selectedMode: false,
        // hide the marker that ECharts puts in the middle of line icons
        itemStyle: { opacity: 0, color: 'rgba(0,0,0,0)', borderWidth: 0 },
        lineStyle: { width: 2 },
        textStyle: { fontFamily: 'Liberation Serif', fontSize: 27, color: '#000', padding: [0, 0, 0, 55] }
      },
      series: series
    };

    var chart = echarts.init(document.getElementById('main'), null, { renderer: 'canvas' });
    chart.setOption(option);
  </script>
</body>
</html>
